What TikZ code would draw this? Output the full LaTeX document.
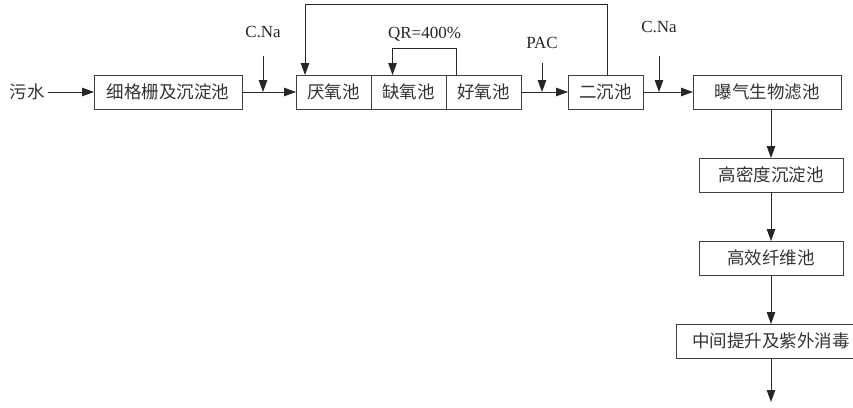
\documentclass[tikz,border=0pt]{standalone}
\usepackage{fontspec}
\setmainfont{Liberation Serif}
\newfontfamily\cjkfont{Noto Sans CJK SC}
\usetikzlibrary{arrows.meta,positioning}

\begin{document}
\begin{tikzpicture}[x=1pt, y=-1pt,
  unit/.style={rectangle, draw=black!75, line width=0.9pt, inner sep=0pt, outer sep=0pt,
    minimum height=34pt, text=black!80, font=\cjkfont\fontsize{17.5}{19}\selectfont},
  tank/.style={unit, minimum width=75pt},
  wide/.style={unit, minimum width=148pt},
  dose/.style={text=black!85, font=\fontsize{17}{20}\selectfont},
  flow/.style={-{Triangle[length=12pt, width=8.5pt]}, line width=0.9pt, draw=black!85},
  pipe/.style={line width=0.9pt, draw=black!85}
]
\useasboundingbox (0,0) rectangle (853,407);
% main line
\node[text=black!80, font=\cjkfont\fontsize{17.5}{19}\selectfont] (raw) at (27,92) {污水};
\node[wide] (screen) at (168,92) {细格栅及沉淀池};
\node[tank, right=54pt of screen] (ana) {厌氧池};
\node[tank, right=0pt of ana] (anox) {缺氧池};
\node[tank, right=0pt of anox] (oxic) {好氧池};
\node[tank, right=47pt of oxic] (clar) {二沉池};
\node[wide, right=50pt of clar] (baf) {曝气生物滤池};
% downstream column
\node[unit, minimum width=144pt, below=49pt of baf, xshift=4pt] (hds) {高密度沉淀池};
\node[unit, minimum width=144pt, below=49pt of hds] (fiber) {高效纤维池};
\node[unit, minimum width=190pt, below=49pt of fiber] (uv) {中间提升及紫外消毒};
\coordinate[below=44pt of uv.south] (outlet);
% dosing points
\node[dose] (cna1) at (263,32) {C.Na};
\node[dose] (pac) at (542,43) {PAC};
\node[dose] (cna2) at (659,27) {C.Na};
\coordinate (d1) at (263,56);
\coordinate (d2) at (542,63);
\coordinate (d3) at (659,56);
\draw[flow] (raw) -- (screen);
\draw[flow] (screen) -- (ana);
\draw[flow] (oxic) -- (clar);
\draw[flow] (clar) -- (baf);
\draw[flow] (d1) -- (d1 |- screen.east);
\draw[flow] (d2) -- (d2 |- oxic.east);
\draw[flow] (d3) -- (d3 |- clar.east);
% internal recycle and sludge return
\draw[flow] ([xshift=-27pt]oxic.north) -- ++(0,-27)
  -| node[dose, pos=0.25, above=3pt] (qr) {QR=400\%} ([xshift=-16pt]anox.north);
\draw[flow] ([xshift=1.5pt]clar.north) -- ++(0,-71) -| ([xshift=-28.5pt]ana.north);
\draw[flow] (hds.north |- baf.south) -- (hds.north);
\draw[flow] (hds) -- (fiber);
\draw[flow] (fiber) -- (uv);
\draw[flow] (uv) -- (outlet);
\end{tikzpicture}
\end{document}
